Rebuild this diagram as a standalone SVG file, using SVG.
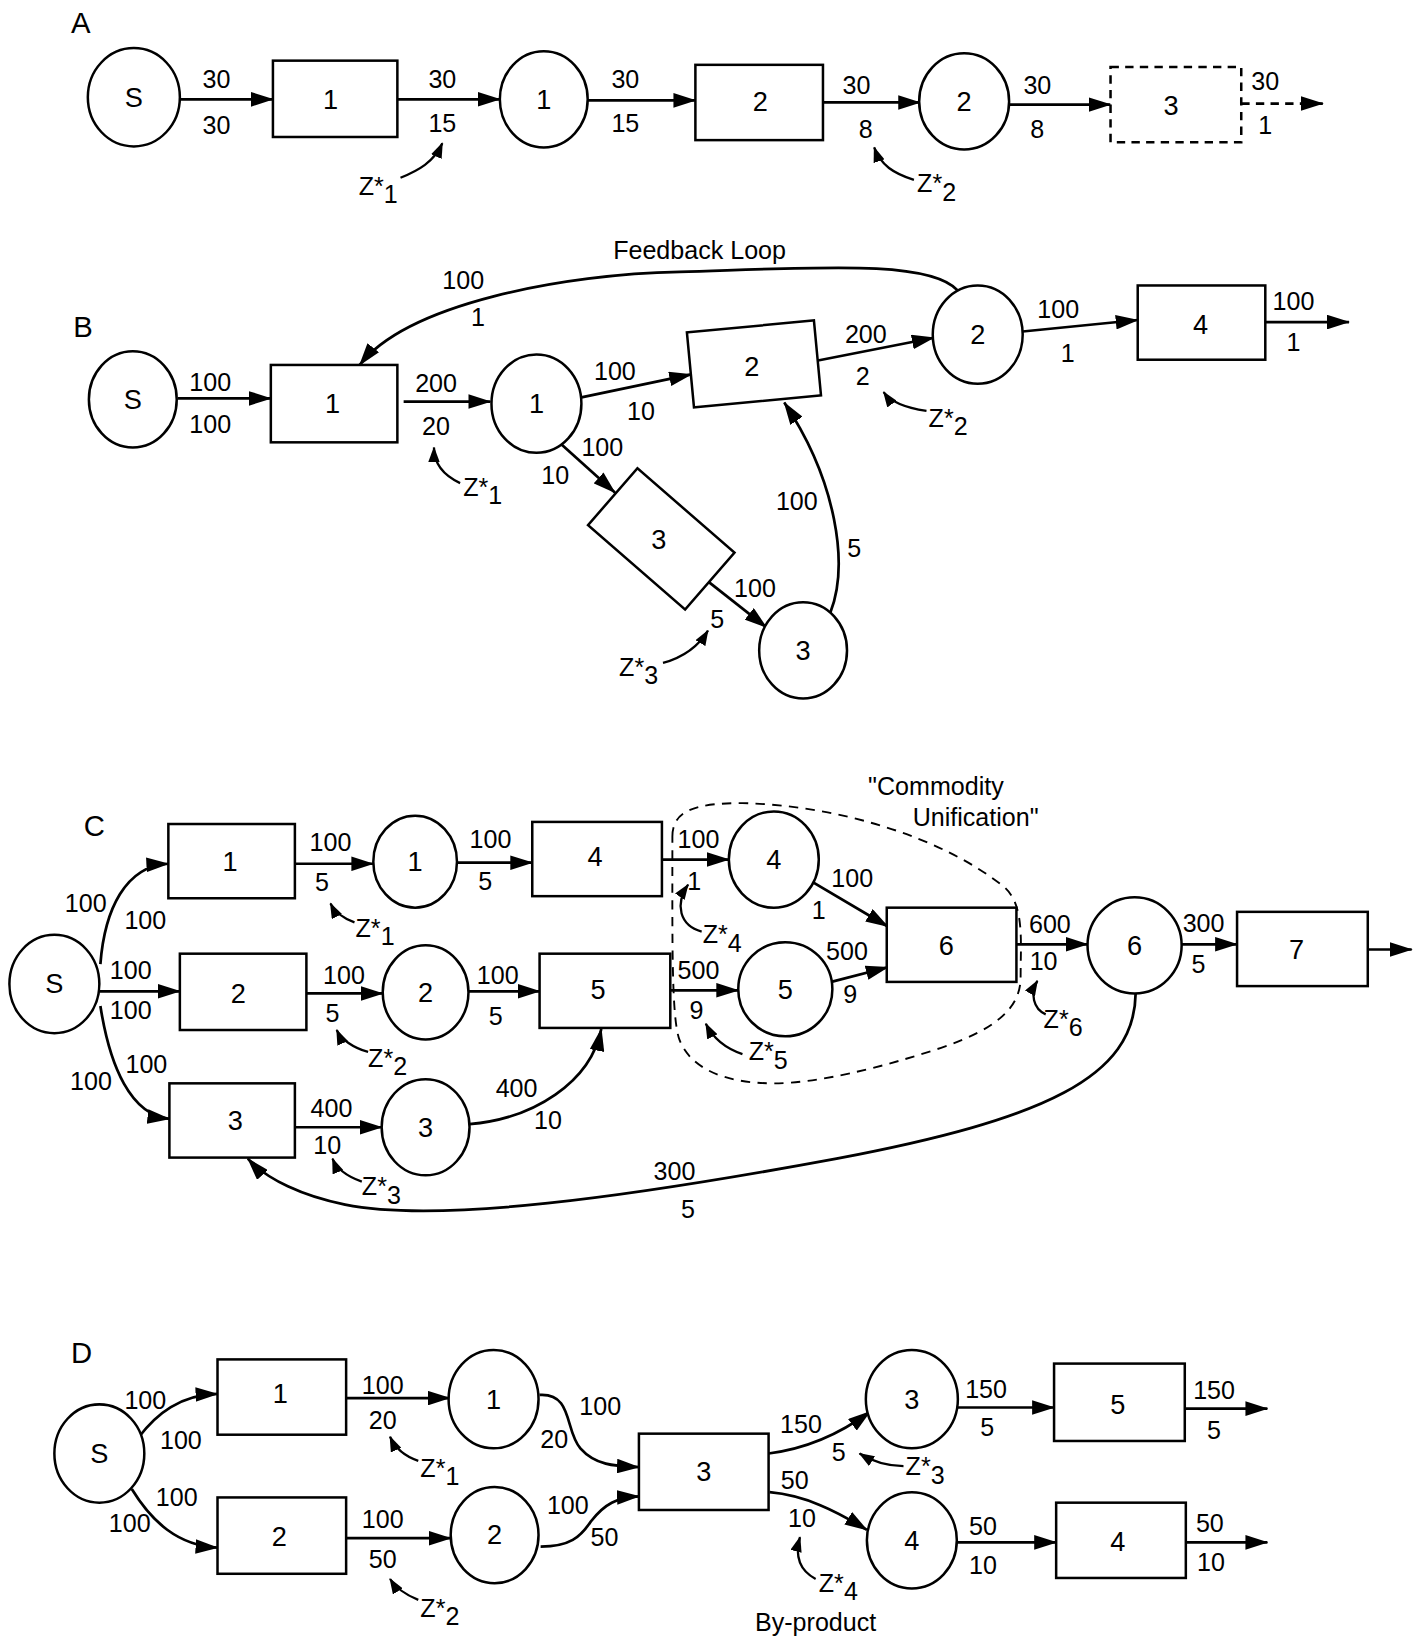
<svg xmlns="http://www.w3.org/2000/svg" width="1420" height="1640" viewBox="0 0 1420 1640">
<defs>
<style>
.n{fill:#fff;stroke:#000;stroke-width:2.4}
.nd{fill:#fff;stroke:#000;stroke-width:2.4;stroke-dasharray:8 6}
.e{fill:none;stroke:#000;stroke-width:2.6;marker-end:url(#ah)}
.ed{fill:none;stroke:#000;stroke-width:2.6;stroke-dasharray:8 6;marker-end:url(#ah)}
.z{fill:none;stroke:#000;stroke-width:2.2;marker-end:url(#ahs)}
.fb{fill:none;stroke:#000;stroke-width:1.8;stroke-dasharray:9 7}
text{font-family:"Liberation Sans",Arial,Helvetica,sans-serif;fill:#000}
.l{font-size:24px;text-anchor:middle}
.nl{font-size:26px;text-anchor:middle}
.zt{font-size:24px}
.pl{font-size:28px}
.t{font-size:24px;text-anchor:middle}
</style>
<marker id="ah" markerWidth="22" markerHeight="14" refX="21" refY="7" orient="auto" markerUnits="userSpaceOnUse"><path d="M0,0 L22,7 L0,14 z" fill="#000"/></marker>
<marker id="ahs" markerWidth="15" markerHeight="11" refX="14" refY="5.5" orient="auto" markerUnits="userSpaceOnUse"><path d="M0,0 L15,5.5 L0,11 z" fill="#000"/></marker>
</defs>
<rect width="1420" height="1640" fill="#fff"/>
<g transform="scale(1.0457)">

<!-- ================= PANEL A ================= -->
<text class="pl" x="68" y="32">A</text>
<g id="connectors-A">
<line class="e" x1="172" y1="95" x2="261" y2="95"/>
<line class="e" x1="380" y1="95" x2="478" y2="95"/>
<line class="e" x1="562" y1="96" x2="665" y2="96"/>
<line class="e" x1="787" y1="98" x2="880" y2="98"/>
<line class="e" x1="965" y1="100" x2="1062" y2="100"/>
<line class="ed" x1="1187" y1="99" x2="1265" y2="99"/>
<path class="z" d="M 383,170 C 400,163 415,155 423,137"/>
<path class="z" d="M 874,172 C 855,166 842,158 836,141"/>
</g>
<g id="A-S"><ellipse class="n" cx="128" cy="93" rx="44" ry="47"/><text class="nl" x="128" y="102">S</text></g>
<g id="A-P1"><rect class="n" x="261" y="58" width="119" height="73"/><text class="nl" x="316" y="104">1</text></g>
<g id="A-C1"><ellipse class="n" cx="520" cy="95" rx="42" ry="46"/><text class="nl" x="520" y="104">1</text></g>
<g id="A-P2"><rect class="n" x="665" y="62" width="122" height="72"/><text class="nl" x="727" y="106">2</text></g>
<g id="A-C2"><ellipse class="n" cx="922" cy="97" rx="43" ry="46"/><text class="nl" x="922" y="106">2</text></g>
<g id="A-P3"><rect class="nd" x="1062" y="64" width="125" height="72"/><text class="nl" x="1120" y="110">3</text></g>
<g id="labels-A">
<text class="l" x="207" y="84">30</text><text class="l" x="207" y="128">30</text>
<text class="l" x="423" y="84">30</text><text class="l" x="423" y="126">15</text>
<text class="l" x="598" y="84">30</text><text class="l" x="598" y="126">15</text>
<text class="l" x="819" y="90">30</text><text class="l" x="828" y="132">8</text>
<text class="l" x="992" y="90">30</text><text class="l" x="992" y="132">8</text>
<text class="l" x="1210" y="86">30</text><text class="l" x="1210" y="128">1</text>
<text class="zt" x="343" y="186">Z<tspan>*</tspan><tspan dy="8">1</tspan></text>
<text class="zt" x="877" y="184">Z<tspan>*</tspan><tspan dy="8">2</tspan></text>
</g>

<!-- ================= PANEL B ================= -->
<text class="pl" x="70" y="322">B</text>
<text class="t" x="669" y="248">Feedback Loop</text>
<g id="connectors-B">
<line class="e" x1="170" y1="381" x2="259" y2="381"/>
<line class="e" x1="386" y1="384" x2="469" y2="384"/>
<line class="e" x1="556" y1="380" x2="661" y2="358"/>
<line class="e" x1="781" y1="345" x2="893" y2="323"/>
<line class="e" x1="978" y1="317" x2="1088" y2="306"/>
<line class="e" x1="1210" y1="308" x2="1290" y2="308"/>
<path class="e" d="M 916,278 C 890,248 780,256 650,260 C 540,262 390,290 344,349"/>
<line class="e" x1="537" y1="425" x2="588" y2="471"/>
<line class="e" x1="677" y1="556" x2="733" y2="600"/>
<path class="e" d="M 794,586 C 812,540 800,460 750,385"/>
<path class="z" d="M 440,462 C 425,455 415,445 415,428"/>
<path class="z" d="M 886,393 C 866,390 852,385 845,375"/>
<path class="z" d="M 634,634 C 655,628 668,618 677,603"/>
</g>
<g id="B-S"><ellipse class="n" cx="127" cy="382" rx="42" ry="46"/><text class="nl" x="127" y="391">S</text></g>
<g id="B-P1"><rect class="n" x="259" y="349" width="121" height="74"/><text class="nl" x="318" y="395">1</text></g>
<g id="B-C1"><ellipse class="n" cx="513" cy="386" rx="43" ry="47"/><text class="nl" x="513" y="395">1</text></g>
<g id="B-P2"><rect class="n" x="660" y="312" width="122" height="72" transform="rotate(-5.4 721 348)"/><text class="nl" x="719" y="360">2</text></g>
<g id="B-C2"><ellipse class="n" cx="935" cy="320" rx="43" ry="47"/><text class="nl" x="935" y="329">2</text></g>
<g id="B-P4"><rect class="n" x="1088" y="273" width="122" height="71"/><text class="nl" x="1148" y="319">4</text></g>
<g id="B-P3"><rect class="n" x="571" y="479" width="123" height="72" transform="rotate(41 632 515)"/><text class="nl" x="630" y="525">3</text></g>
<g id="B-C3"><ellipse class="n" cx="768" cy="622" rx="42" ry="46"/><text class="nl" x="768" y="631">3</text></g>
<g id="labels-B">
<text class="l" x="201" y="374">100</text><text class="l" x="201" y="414">100</text>
<text class="l" x="417" y="375">200</text><text class="l" x="417" y="416">20</text>
<text class="l" x="588" y="363">100</text><text class="l" x="613" y="402">10</text>
<text class="l" x="828" y="328">200</text><text class="l" x="825" y="368">2</text>
<text class="l" x="1012" y="304">100</text><text class="l" x="1021" y="346">1</text>
<text class="l" x="1237" y="296">100</text><text class="l" x="1237" y="336">1</text>
<text class="l" x="443" y="276">100</text><text class="l" x="457" y="312">1</text>
<text class="l" x="576" y="436">100</text><text class="l" x="531" y="463">10</text>
<text class="l" x="722" y="571">100</text><text class="l" x="686" y="601">5</text>
<text class="l" x="762" y="488">100</text><text class="l" x="817" y="533">5</text>
<text class="zt" x="443" y="474">Z<tspan>*</tspan><tspan dy="8">1</tspan></text>
<text class="zt" x="888" y="408">Z<tspan>*</tspan><tspan dy="8">2</tspan></text>
<text class="zt" x="592" y="646">Z<tspan>*</tspan><tspan dy="8">3</tspan></text>
</g>

<!-- ================= PANEL C ================= -->
<text class="pl" x="80" y="799">C</text>
<path id="C-region" class="fb" d="M 643,800 C 643,775 665,768 710,768 C 800,770 900,800 960,848 C 980,865 976,900 976,935 C 976,965 950,985 900,1002 C 840,1022 780,1036 740,1036 C 690,1036 660,1020 650,995 C 642,975 643,900 643,800 Z"/>
<text class="t" x="895" y="760">"Commodity</text>
<text class="t" x="933" y="790">Unification"</text>
<g id="connectors-C">
<path class="e" d="M 96,922 C 100,870 120,828 161,826"/>
<line class="e" x1="95" y1="948" x2="172" y2="948"/>
<path class="e" d="M 96,962 C 105,1020 125,1066 162,1070"/>
<line class="e" x1="282" y1="826" x2="357" y2="826"/>
<line class="e" x1="437" y1="825" x2="509" y2="825"/>
<line class="e" x1="633" y1="822" x2="697" y2="822"/>
<line class="e" x1="778" y1="844" x2="849" y2="886"/>
<line class="e" x1="293" y1="950" x2="366" y2="950"/>
<line class="e" x1="448" y1="948" x2="516" y2="948"/>
<line class="e" x1="641" y1="947" x2="706" y2="947"/>
<line class="e" x1="795" y1="939" x2="849" y2="925"/>
<line class="e" x1="282" y1="1078" x2="365" y2="1078"/>
<path class="e" d="M 449,1075 C 510,1070 565,1035 575,984"/>
<line class="e" x1="972" y1="903" x2="1040" y2="903"/>
<line class="e" x1="1130" y1="903" x2="1183" y2="903"/>
<line class="e" x1="1308" y1="908" x2="1350" y2="908"/>
<path class="e" d="M 1086,950 C 1085,1030 1000,1070 800,1108 C 600,1145 420,1170 330,1152 C 290,1144 255,1128 237,1108"/>
<path class="z" d="M 339,882 C 328,878 320,872 316,864"/>
<path class="z" d="M 671,891 C 650,885 645,865 658,846"/>
<path class="z" d="M 352,1006 C 338,1002 326,994 322,985"/>
<path class="z" d="M 710,1008 C 695,1003 682,993 675,979"/>
<path class="z" d="M 346,1130 C 332,1125 322,1118 318,1108"/>
<path class="z" d="M 1000,970 C 988,965 985,950 992,938"/>
</g>
<g id="C-S"><ellipse class="n" cx="52" cy="941" rx="43" ry="47"/><text class="nl" x="52" y="950">S</text></g>
<g id="C-P1"><rect class="n" x="161" y="788" width="121" height="71"/><text class="nl" x="220" y="833">1</text></g>
<g id="C-C1"><ellipse class="n" cx="397" cy="824" rx="40" ry="44"/><text class="nl" x="397" y="833">1</text></g>
<g id="C-P4"><rect class="n" x="509" y="786" width="124" height="71"/><text class="nl" x="569" y="828">4</text></g>
<g id="C-C4"><ellipse class="n" cx="740" cy="822" rx="43" ry="46"/><text class="nl" x="740" y="831">4</text></g>
<g id="C-P6"><rect class="n" x="848" y="868" width="124" height="71"/><text class="nl" x="905" y="913">6</text></g>
<g id="C-P2"><rect class="n" x="172" y="912" width="121" height="73"/><text class="nl" x="228" y="959">2</text></g>
<g id="C-C2"><ellipse class="n" cx="407" cy="949" rx="41" ry="45"/><text class="nl" x="407" y="958">2</text></g>
<g id="C-P5"><rect class="n" x="516" y="912" width="125" height="71"/><text class="nl" x="572" y="955">5</text></g>
<g id="C-C5"><ellipse class="n" cx="751" cy="946" rx="45" ry="45"/><text class="nl" x="751" y="955">5</text></g>
<g id="C-P3"><rect class="n" x="162" y="1036" width="120" height="71"/><text class="nl" x="225" y="1081">3</text></g>
<g id="C-C3"><ellipse class="n" cx="407" cy="1078" rx="42" ry="46"/><text class="nl" x="407" y="1087">3</text></g>
<g id="C-C6"><ellipse class="n" cx="1085" cy="904" rx="45" ry="46"/><text class="nl" x="1085" y="913">6</text></g>
<g id="C-P7"><rect class="n" x="1183" y="872" width="125" height="71"/><text class="nl" x="1240" y="917">7</text></g>
<g id="labels-C">
<text class="l" x="82" y="872">100</text><text class="l" x="139" y="888">100</text>
<text class="l" x="125" y="936">100</text><text class="l" x="125" y="974">100</text>
<text class="l" x="140" y="1026">100</text><text class="l" x="87" y="1042">100</text>
<text class="l" x="316" y="814">100</text><text class="l" x="308" y="852">5</text>
<text class="l" x="469" y="811">100</text><text class="l" x="464" y="851">5</text>
<text class="l" x="668" y="811">100</text><text class="l" x="664" y="851">1</text>
<text class="l" x="815" y="848">100</text><text class="l" x="783" y="879">1</text>
<text class="l" x="329" y="941">100</text><text class="l" x="318" y="977">5</text>
<text class="l" x="476" y="941">100</text><text class="l" x="474" y="980">5</text>
<text class="l" x="668" y="936">500</text><text class="l" x="666" y="974">9</text>
<text class="l" x="810" y="918">500</text><text class="l" x="813" y="959">9</text>
<text class="l" x="317" y="1068">400</text><text class="l" x="313" y="1104">10</text>
<text class="l" x="494" y="1049">400</text><text class="l" x="524" y="1080">10</text>
<text class="l" x="1004" y="892">600</text><text class="l" x="998" y="928">10</text>
<text class="l" x="1151" y="891">300</text><text class="l" x="1146" y="930">5</text>
<text class="l" x="645" y="1128">300</text><text class="l" x="658" y="1165">5</text>
<text class="zt" x="340" y="896">Z<tspan>*</tspan><tspan dy="8">1</tspan></text>
<text class="zt" x="672" y="902">Z<tspan>*</tspan><tspan dy="8">4</tspan></text>
<text class="zt" x="352" y="1020">Z<tspan>*</tspan><tspan dy="8">2</tspan></text>
<text class="zt" x="716" y="1014">Z<tspan>*</tspan><tspan dy="8">5</tspan></text>
<text class="zt" x="346" y="1143">Z<tspan>*</tspan><tspan dy="8">3</tspan></text>
<text class="zt" x="998" y="983">Z<tspan>*</tspan><tspan dy="8">6</tspan></text>
</g>

<!-- ================= PANEL D ================= -->
<text class="pl" x="68" y="1303">D</text>
<g id="connectors-D">
<path class="e" d="M 133,1374 C 150,1352 172,1334 208,1333"/>
<path class="e" d="M 126,1424 C 145,1455 170,1478 208,1480"/>
<line class="e" x1="331" y1="1337" x2="430" y2="1337"/>
<line class="e" x1="331" y1="1471" x2="431" y2="1471"/>
<path class="e" d="M 516,1334 C 548,1332 540,1368 555,1385 C 570,1402 590,1402 611,1403"/>
<path class="e" d="M 517,1479 C 545,1479 555,1470 565,1455 C 578,1438 590,1432 611,1431"/>
<path class="e" d="M 735,1390 C 775,1385 805,1370 832,1350"/>
<path class="e" d="M 736,1427 C 770,1430 800,1445 829,1463"/>
<line class="e" x1="916" y1="1346" x2="1008" y2="1346"/>
<line class="e" x1="1133" y1="1347" x2="1212" y2="1347"/>
<line class="e" x1="915" y1="1475" x2="1010" y2="1475"/>
<line class="e" x1="1134" y1="1475" x2="1212" y2="1475"/>
<path class="z" d="M 400,1397 C 388,1393 378,1385 373,1374"/>
<path class="z" d="M 400,1530 C 388,1525 378,1518 373,1510"/>
<path class="z" d="M 864,1402 C 850,1402 835,1398 822,1390"/>
<path class="z" d="M 780,1510 C 765,1502 760,1488 765,1470"/>
</g>
<g id="D-S"><ellipse class="n" cx="95" cy="1390" rx="43" ry="47"/><text class="nl" x="95" y="1399">S</text></g>
<g id="D-P1"><rect class="n" x="208" y="1300" width="123" height="72"/><text class="nl" x="268" y="1342">1</text></g>
<g id="D-C1"><ellipse class="n" cx="472" cy="1338" rx="43" ry="47"/><text class="nl" x="472" y="1347">1</text></g>
<g id="D-P2"><rect class="n" x="208" y="1432" width="123" height="73"/><text class="nl" x="267" y="1478">2</text></g>
<g id="D-C2"><ellipse class="n" cx="473" cy="1468" rx="42" ry="46"/><text class="nl" x="473" y="1477">2</text></g>
<g id="D-P3"><rect class="n" x="611" y="1371" width="124" height="73"/><text class="nl" x="673" y="1416">3</text></g>
<g id="D-C3"><ellipse class="n" cx="872" cy="1338" rx="44" ry="47"/><text class="nl" x="872" y="1347">3</text></g>
<g id="D-P5"><rect class="n" x="1008" y="1304" width="125" height="74"/><text class="nl" x="1069" y="1352">5</text></g>
<g id="D-C4"><ellipse class="n" cx="872" cy="1473" rx="43" ry="46"/><text class="nl" x="872" y="1482">4</text></g>
<g id="D-P4"><rect class="n" x="1010" y="1437" width="124" height="72"/><text class="nl" x="1069" y="1483">4</text></g>
<g id="labels-D">
<text class="l" x="139" y="1347">100</text><text class="l" x="173" y="1386">100</text>
<text class="l" x="169" y="1440">100</text><text class="l" x="124" y="1465">100</text>
<text class="l" x="366" y="1333">100</text><text class="l" x="366" y="1367">20</text>
<text class="l" x="366" y="1461">100</text><text class="l" x="366" y="1499">50</text>
<text class="l" x="574" y="1353">100</text><text class="l" x="530" y="1385">20</text>
<text class="l" x="543" y="1448">100</text><text class="l" x="578" y="1478">50</text>
<text class="l" x="766" y="1370">150</text><text class="l" x="802" y="1397">5</text>
<text class="l" x="760" y="1424">50</text><text class="l" x="767" y="1460">10</text>
<text class="l" x="943" y="1337">150</text><text class="l" x="944" y="1373">5</text>
<text class="l" x="1161" y="1338">150</text><text class="l" x="1161" y="1376">5</text>
<text class="l" x="940" y="1468">50</text><text class="l" x="940" y="1505">10</text>
<text class="l" x="1157" y="1465">50</text><text class="l" x="1158" y="1502">10</text>
<text class="zt" x="402" y="1412">Z<tspan>*</tspan><tspan dy="8">1</tspan></text>
<text class="zt" x="402" y="1546">Z<tspan>*</tspan><tspan dy="8">2</tspan></text>
<text class="zt" x="866" y="1411">Z<tspan>*</tspan><tspan dy="8">3</tspan></text>
<text class="zt" x="783" y="1522">Z<tspan>*</tspan><tspan dy="8">4</tspan></text>
<text class="t" x="780" y="1560">By-product</text>
</g>
</g>
</svg>
